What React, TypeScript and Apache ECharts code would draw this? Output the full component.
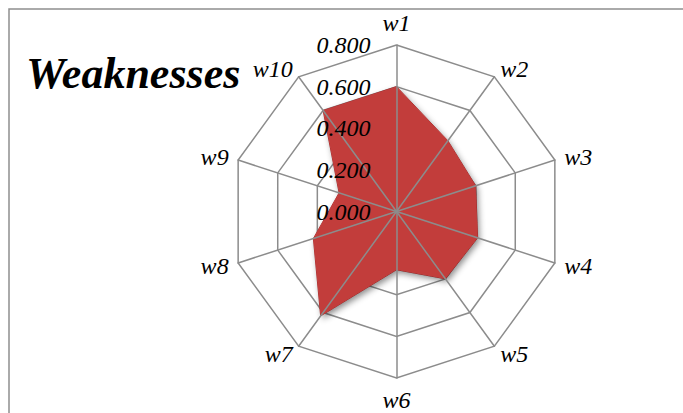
import React, { useEffect, useRef } from "react";
import * as echarts from "echarts";

const categories = ["w1", "w2", "w3", "w4", "w5", "w6", "w7", "w8", "w9", "w10"];
const values = [0.6, 0.42, 0.4, 0.41, 0.4, 0.28, 0.62, 0.42, 0.29, 0.6];
const maxValue = 0.8;
const tickInterval = 0.2;
const titleText = "Weaknesses";

const SERIF = "'Liberation Serif', 'Times New Roman', serif";

// ECharts places radar indicators counter-clockwise; reorder so they run clockwise.
const clockwise = <T,>(arr: T[]): T[] => [arr[0], ...arr.slice(1).reverse()];

export default function App() {
  const ref = useRef<HTMLDivElement>(null);
  useEffect(() => {
    if (!ref.current) return;
    const chart = echarts.init(ref.current, null, { renderer: "svg" });
    const indicator = clockwise(categories).map((name) => ({ name, min: 0, max: maxValue }));
    const center = [396.5, 211.5];
    const radius = 166.5;
    chart.setOption({
      animation: false,
      backgroundColor: "#ffffff",
      radar: [
        {
          center,
          radius,
          startAngle: 90,
          shape: "polygon",
          splitNumber: 4,
          indicator,
          z: 1,
          axisName: {
            color: "#000",
            fontFamily: SERIF,
            fontStyle: "italic",
            fontSize: 24,
          },
          nameGap: 10,
          splitLine: { lineStyle: { color: "#8c8c8c", width: 1.5 } },
          splitArea: { show: false },
          axisLine: { show: false },
          axisTick: { show: false },
          axisLabel: { show: false },
        },
        {
          center,
          radius,
          startAngle: 90,
          shape: "polygon",
          splitNumber: 4,
          indicator: indicator.map((d) => ({ ...d, name: "" })),
          z: 3,
          axisName: { show: false },
          splitLine: { show: false },
          splitArea: { show: false },
          axisLine: { lineStyle: { color: "#8c8c8c", width: 1.5 } },
          axisTick: { show: false },
          axisLabel: { show: false },
        },
      ],
      polar: { center, radius },
      angleAxis: { show: false, min: 0, max: 360, startAngle: 90 },
      radiusAxis: {
        min: 0,
        max: maxValue,
        interval: tickInterval,
        z: 4,
        axisLine: { show: false },
        axisTick: { show: false },
        splitLine: { show: false },
        axisLabel: {
          show: true,
          formatter: (v: number) => v.toFixed(3),
          color: "#000",
          fontFamily: SERIF,
          fontStyle: "italic",
          fontSize: 24,
          margin: 26,
        },
      },
      series: [
        {
          type: "radar",
          radarIndex: 0,
          z: 2,
          symbol: "none",
          lineStyle: { color: "#b33232", width: 1 },
          areaStyle: {
            color: "#c23c3b",
            opacity: 1,
            shadowBlur: 6,
            shadowColor: "rgba(0,0,0,0.45)",
            shadowOffsetX: 2,
            shadowOffsetY: 3,
          },
          data: [{ value: clockwise(values), name: titleText }],
        },
      ],
      graphic: [
        {
          type: "rect",
          shape: { x: 9, y: 9, width: 700, height: 420 },
          style: { fill: "none", stroke: "#8e8e8e", lineWidth: 1.5 },
          z: 0,
        },
        {
          type: "text",
          x: 26,
          y: 73,
          style: {
            text: titleText,
            fontFamily: SERIF,
            fontStyle: "italic",
            fontWeight: "bold",
            fontSize: 44,
            fill: "#000",
            verticalAlign: "middle",
          },
          z: 5,
        },
      ],
    });
    return () => chart.dispose();
  }, []);
  return (
    <div
      ref={ref}
      style={{ position: "fixed", left: 0, top: 0, width: 683, height: 413 }}
    />
  );
}
